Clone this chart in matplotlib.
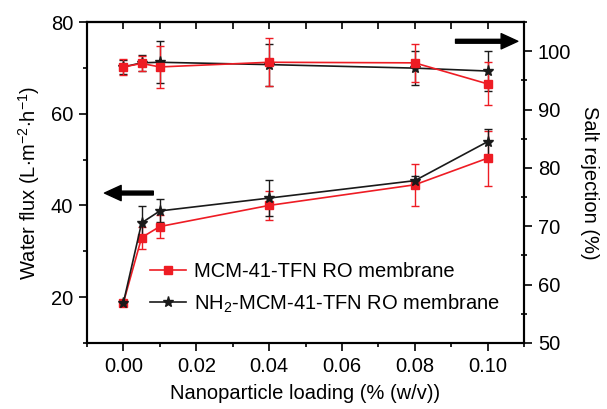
import numpy as np
import matplotlib.pyplot as plt
from matplotlib.ticker import MultipleLocator

plt.rcParams['font.family'] = ['Liberation Sans', 'DejaVu Sans']
plt.rcParams['mathtext.fontset'] = 'custom'
plt.rcParams['mathtext.rm'] = 'Liberation Sans'
plt.rcParams['mathtext.it'] = 'Liberation Sans'
plt.rcParams['font.size'] = 14.5

loading = [0.0, 0.005, 0.01, 0.04, 0.08, 0.10]

# water flux (L m-2 h-1)
flux_mcm = [18.8, 33.0, 35.4, 40.0, 44.5, 50.3]
flux_mcm_err = [0.3, 2.4, 2.6, 3.2, 4.6, 6.0]
flux_nh2 = [18.8, 36.2, 38.8, 41.6, 45.4, 53.9]
flux_nh2_err = [0.3, 3.6, 2.5, 3.9, 1.0, 2.8]

# salt rejection (%)
rej_mcm = [97.3, 97.9, 97.3, 98.1, 98.0, 94.4]
rej_mcm_err = [1.4, 1.3, 3.6, 4.1, 3.2, 3.7]
rej_nh2 = [97.3, 98.0, 98.1, 97.7, 97.1, 96.6]
rej_nh2_err = [1.2, 1.4, 3.6, 3.6, 2.9, 3.4]

red = '#ee1c24'

fig = plt.figure(figsize=(6.07, 4.09), dpi=100)
ax = fig.add_axes([87/607, 1-343/409, 437/607, 321/409])
ax2 = ax.twinx()

eb_kw = dict(capsize=3, elinewidth=1.0, capthick=1.0, lw=1.2)
m1 = ax.errorbar(loading, flux_mcm, yerr=flux_mcm_err, color=red, marker='s', ms=6, **eb_kw)
m2 = ax.errorbar(loading, flux_nh2, yerr=flux_nh2_err, color='#1a1a1a', marker='*', ms=8, **eb_kw)
ax2.errorbar(loading, rej_nh2, yerr=rej_nh2_err, color='#1a1a1a', marker='*', ms=8, **eb_kw)
ax2.errorbar(loading, rej_mcm, yerr=rej_mcm_err, color=red, marker='s', ms=6, **eb_kw)

ax.set_xlim(-0.01, 0.11)
ax.set_ylim(10, 80)
ax2.set_ylim(50, 105)

ax.set_xticks([0.0, 0.02, 0.04, 0.06, 0.08, 0.10])
ax.xaxis.set_minor_locator(MultipleLocator(0.01))
ax.set_yticks([20, 40, 60, 80])
ax.yaxis.set_minor_locator(MultipleLocator(10))
ax2.set_yticks([50, 60, 70, 80, 90, 100])
ax2.yaxis.set_minor_locator(MultipleLocator(5))

ax.tick_params(which='major', direction='out', length=6, width=1.2, pad=4)
ax.tick_params(which='minor', direction='out', length=3, width=1.2)
ax2.tick_params(which='major', direction='out', length=6, width=1.2, pad=4)
ax2.tick_params(which='minor', direction='inout', length=5, width=1.2)

# inward ticks along the top edge
top = ax.secondary_xaxis('top')
top.set_xticks([0.0, 0.02, 0.04, 0.06, 0.08, 0.10])
top.xaxis.set_minor_locator(MultipleLocator(0.01))
top.tick_params(which='both', direction='in', length=5, width=1.2, labeltop=False)

for a in (ax, ax2, top):
    for s in a.spines.values():
        s.set_linewidth(1.5)

ax.set_xlabel('Nanoparticle loading (% (w/v))', labelpad=6)
ax.set_ylabel(r'Water flux (L$\cdot$m$^{-2}$$\cdot$h$^{-1}$)', labelpad=6)
ax2.set_ylabel('Salt rejection (%)', rotation=270, labelpad=20)

arrow = dict(arrowstyle='simple,head_length=0.6,head_width=0.55,tail_width=0.14',
             color='black', mutation_scale=20, shrinkA=0, shrinkB=0)
ax.annotate('', xy=(-0.0052, 42.7), xytext=(0.0082, 42.7), arrowprops=arrow)
ax2.annotate('', xy=(0.1083, 101.7), xytext=(0.0912, 101.7), arrowprops=arrow)

ax.legend([m1[0], m2[0]],
          ['MCM-41-TFN RO membrane', r'NH$_2$-MCM-41-TFN RO membrane'],
          loc='center left', bbox_to_anchor=(0.144, 0.17), frameon=False,
          borderpad=0, borderaxespad=0, handlelength=1.8, handletextpad=0.4,
          labelspacing=0.55)

fig.savefig('out.png', dpi=100)
